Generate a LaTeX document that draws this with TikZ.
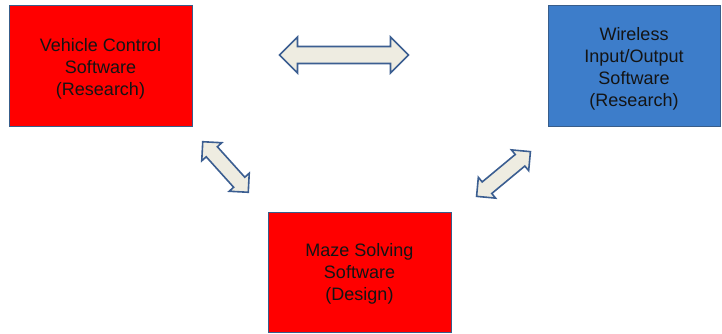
\documentclass[tikz,border=0pt]{standalone}
\usepackage{fontspec}
\setmainfont{Liberation Sans}
\definecolor{boxred}{RGB}{255,0,0}
\definecolor{boxblue}{RGB}{61,125,202}
\definecolor{edgeblue}{RGB}{56,93,138}
\definecolor{arrowfill}{RGB}{238,236,225}
\definecolor{arrowline}{RGB}{59,94,145}
\definecolor{textdark}{RGB}{20,20,20}
\tikzset{
  swbox/.style={draw=edgeblue, line width=1pt, minimum width=183pt, minimum height=120pt,
    inner sep=0pt},
  boxtext/.style={align=center, text=textdark, inner sep=0pt, font=\fontsize{18}{22}\selectfont},
  linkarrow/.style={draw=arrowline, fill=arrowfill, line width=1.6pt, line join=miter}
}
% double-headed block arrow: centre, angle, length, head half-width, shaft half-width
\newcommand\blockdblarrow[5]{%
  \begin{scope}[shift={(#1)}, rotate=#2]
    \pgfmathsetmacro\hl{#3/2}
    \pgfmathsetmacro\hb{#3/2-#4}
    \draw[linkarrow] (-\hl,0) -- (-\hb,#4) -- (-\hb,#5) -- (\hb,#5) -- (\hb,#4) -- (\hl,0)
      -- (\hb,-#4) -- (\hb,-#5) -- (-\hb,-#5) -- (-\hb,-#4) -- cycle;
  \end{scope}}
\begin{document}
\begin{tikzpicture}[x=1pt, y=-1pt]
  \useasboundingbox (0,0) rectangle (722,334);
  \node[swbox, fill=boxred] (vehicle) at (100.5,66) {};
  \node[swbox, fill=boxblue, minimum width=172pt] (wireless) at (634,66) {};
  \node[swbox, fill=boxred] (maze) at (359.5,272) {};
  \node[boxtext] (vehicletext) at ([yshift=-2.5pt]vehicle.center) {Vehicle Control\\Software\\(Research)};
  \node[boxtext] (wirelesstext) at ([yshift=-2.5pt]wireless.center) {Wireless\\Input/Output\\Software\\(Research)};
  \node[boxtext] (mazetext) at ([yshift=-2pt]maze.center) {Maze Solving\\Software\\(Design)};
  \coordinate (topmid) at (344,55);
  \coordinate (leftmid) at (225.5,167);
  \coordinate (rightmid) at (503.5,174);
  \blockdblarrow{topmid}{0}{129}{18}{8.5}
  \blockdblarrow{leftmid}{-48}{68}{13.5}{7.5}
  \blockdblarrow{rightmid}{39.7}{70}{13.5}{7.5}
\end{tikzpicture}
\end{document}
